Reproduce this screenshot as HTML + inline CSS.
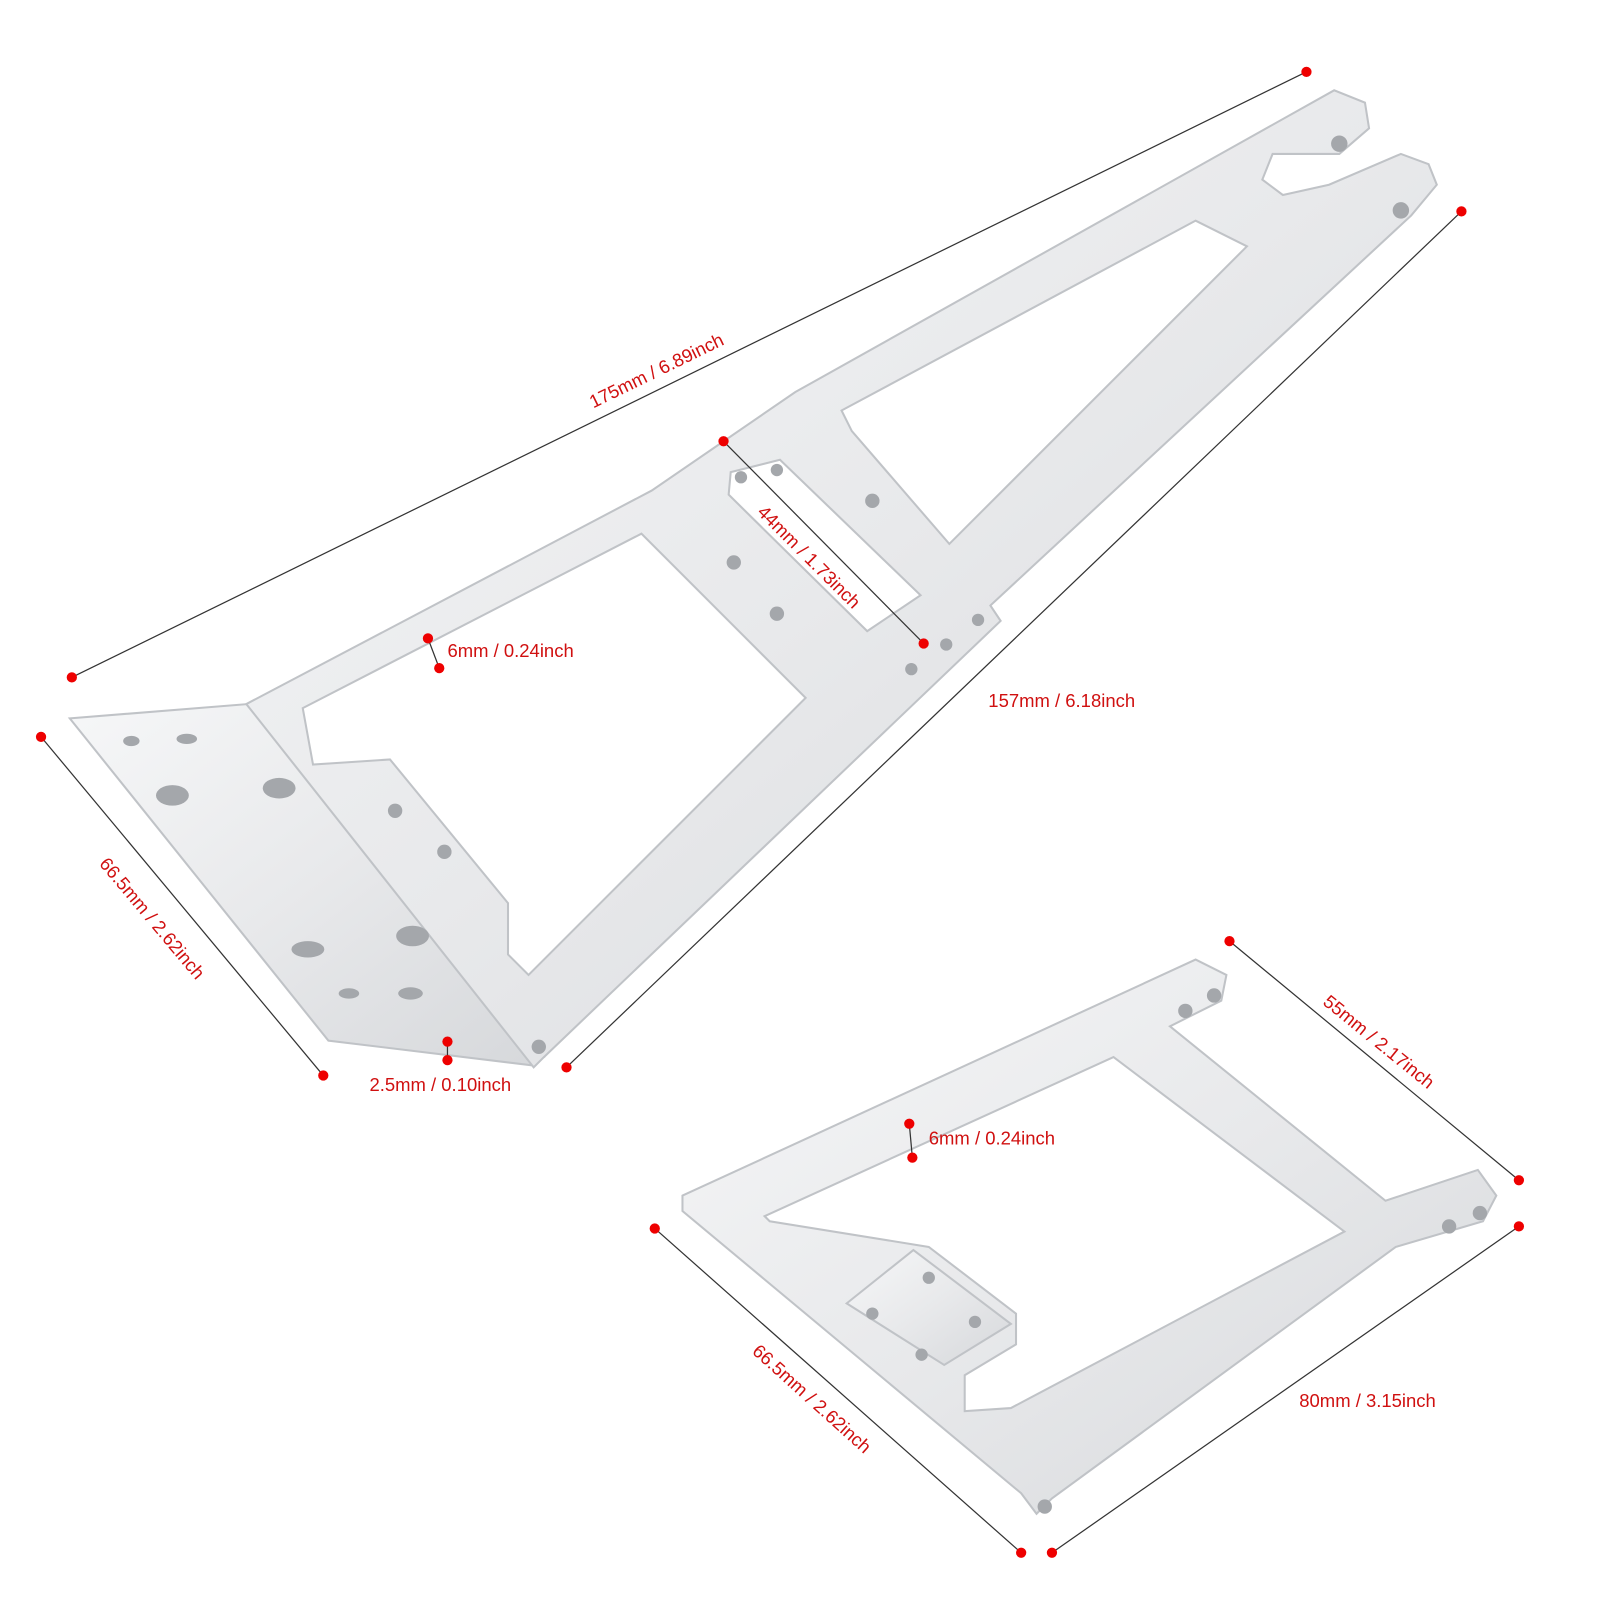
<!DOCTYPE html>
<html><head><meta charset="utf-8"><style>
html,body{margin:0;padding:0;background:#fff}
svg{display:block}
text{font-family:"Liberation Sans",sans-serif;font-size:18px;fill:#d01010}
</style></head><body>
<svg width="1601" height="1601" viewBox="0 0 1560 1560" xmlns="http://www.w3.org/2000/svg">
<defs>
<linearGradient id="g" x1="0" y1="0" x2="1" y2="1">
<stop offset="0" stop-color="#f6f7f8"/><stop offset="0.5" stop-color="#e8e9eb"/><stop offset="1" stop-color="#d6d8db"/>
</linearGradient>
</defs>
<g fill="url(#g)" stroke="#c0c3c7" stroke-width="2" fill-rule="evenodd">
<path d="M68,700 L242,686 L530,1030 L518,1038 L320,1014 Z"/>
<path d="M240,686 L635,478 L775,382 L1300,88 L1330,100 L1334,125 L1305,150 L1240,150 L1230,175 L1250,190 L1295,180 L1365,150 L1392,160 L1400,180 L1375,210 L965,590 L975,605 L530,1030 L520,1040 Z
M295,690 L625,520 L785,680 L515,950 L495,930 L495,880 L380,740 L305,745 Z
M820,400 L1165,215 L1215,240 L925,530 L830,420 Z
M712,460 L760,448 L897,580 L845,615 L710,482 Z"/>
</g>
<g fill="#a4a7ab">
<ellipse cx="128" cy="722" rx="8" ry="5"/><ellipse cx="182" cy="720" rx="10" ry="5"/>
<ellipse cx="168" cy="775" rx="16" ry="10"/><ellipse cx="272" cy="768" rx="16" ry="10"/>
<ellipse cx="300" cy="925" rx="16" ry="8"/><ellipse cx="402" cy="912" rx="16" ry="10"/>
<ellipse cx="340" cy="968" rx="10" ry="5"/><ellipse cx="400" cy="968" rx="12" ry="6"/>
<circle cx="385" cy="790" r="7"/><circle cx="433" cy="830" r="7"/>
<circle cx="715" cy="548" r="7"/><circle cx="757" cy="598" r="7"/><circle cx="850" cy="488" r="7"/>
<circle cx="722" cy="465" r="6"/><circle cx="757" cy="458" r="6"/>
<circle cx="888" cy="652" r="6"/><circle cx="922" cy="628" r="6"/><circle cx="953" cy="604" r="6"/>
<circle cx="525" cy="1020" r="7"/><circle cx="1305" cy="140" r="8"/><circle cx="1365" cy="205" r="8"/>
</g>
<g fill="url(#g)" stroke="#c0c3c7" stroke-width="2" fill-rule="evenodd">
<path d="M665,1165 L1165,935 L1195,950 L1190,975 L1140,1000 L1350,1170 L1440,1140 L1458,1165 L1445,1190 L1360,1215 L1025,1460 L1010,1475 L995,1455 L665,1180 Z
M745,1185 L1085,1030 L1310,1200 L985,1372 L940,1375 L940,1340 L990,1310 L990,1280 L905,1215 L750,1190 Z"/>
<path d="M825,1270 L890,1218 L985,1290 L920,1330 Z"/>
</g>
<g fill="#a4a7ab">
<circle cx="905" cy="1245" r="6"/><circle cx="850" cy="1280" r="6"/><circle cx="950" cy="1288" r="6"/><circle cx="898" cy="1320" r="6"/>
<circle cx="1155" cy="985" r="7"/><circle cx="1183" cy="970" r="7"/>
<circle cx="1412" cy="1195" r="7"/><circle cx="1442" cy="1182" r="7"/><circle cx="1018" cy="1468" r="7"/>
</g>
<g stroke="#333" stroke-width="1.2">
<line x1="70" y1="660" x2="1273" y2="70"/>
<line x1="552" y1="1040" x2="1424" y2="206"/>
<line x1="40" y1="718" x2="315" y2="1048"/>
<line x1="705" y1="430" x2="900" y2="627"/>
<line x1="417" y1="622" x2="428" y2="651"/>
<line x1="436" y1="1015" x2="436" y2="1033"/>
<line x1="1198" y1="917" x2="1480" y2="1150"/>
<line x1="1025" y1="1513" x2="1480" y2="1195"/>
<line x1="638" y1="1197" x2="995" y2="1513"/>
<line x1="886" y1="1095" x2="889" y2="1128"/>
</g>
<g fill="#e00">
<circle cx="70" cy="660" r="5"/><circle cx="1273" cy="70" r="5"/>
<circle cx="552" cy="1040" r="5"/><circle cx="1424" cy="206" r="5"/>
<circle cx="40" cy="718" r="5"/><circle cx="315" cy="1048" r="5"/>
<circle cx="705" cy="430" r="5"/><circle cx="900" cy="627" r="5"/>
<circle cx="417" cy="622" r="5"/><circle cx="428" cy="651" r="5"/>
<circle cx="436" cy="1015" r="5"/><circle cx="436" cy="1033" r="5"/>
<circle cx="1198" cy="917" r="5"/><circle cx="1480" cy="1150" r="5"/>
<circle cx="1025" cy="1513" r="5"/><circle cx="1480" cy="1195" r="5"/>
<circle cx="638" cy="1197" r="5"/><circle cx="995" cy="1513" r="5"/>
<circle cx="886" cy="1095" r="5"/><circle cx="889" cy="1128" r="5"/>
</g>
<text x="0" y="0" transform="translate(578,398) rotate(-26)">175mm / 6.89inch</text>
<text x="963" y="689">157mm / 6.18inch</text>
<text x="0" y="0" transform="translate(96,842) rotate(50)">66.5mm / 2.62inch</text>
<text x="0" y="0" transform="translate(737,500) rotate(45)">44mm / 1.73inch</text>
<text x="436" y="640">6mm / 0.24inch</text>
<text x="360" y="1063">2.5mm / 0.10inch</text>
<text x="0" y="0" transform="translate(1288,978) rotate(39)">55mm / 2.17inch</text>
<text x="1266" y="1371">80mm / 3.15inch</text>
<text x="0" y="0" transform="translate(732,1318) rotate(42)">66.5mm / 2.62inch</text>
<text x="905" y="1115">6mm / 0.24inch</text>
</svg>
</body></html>
